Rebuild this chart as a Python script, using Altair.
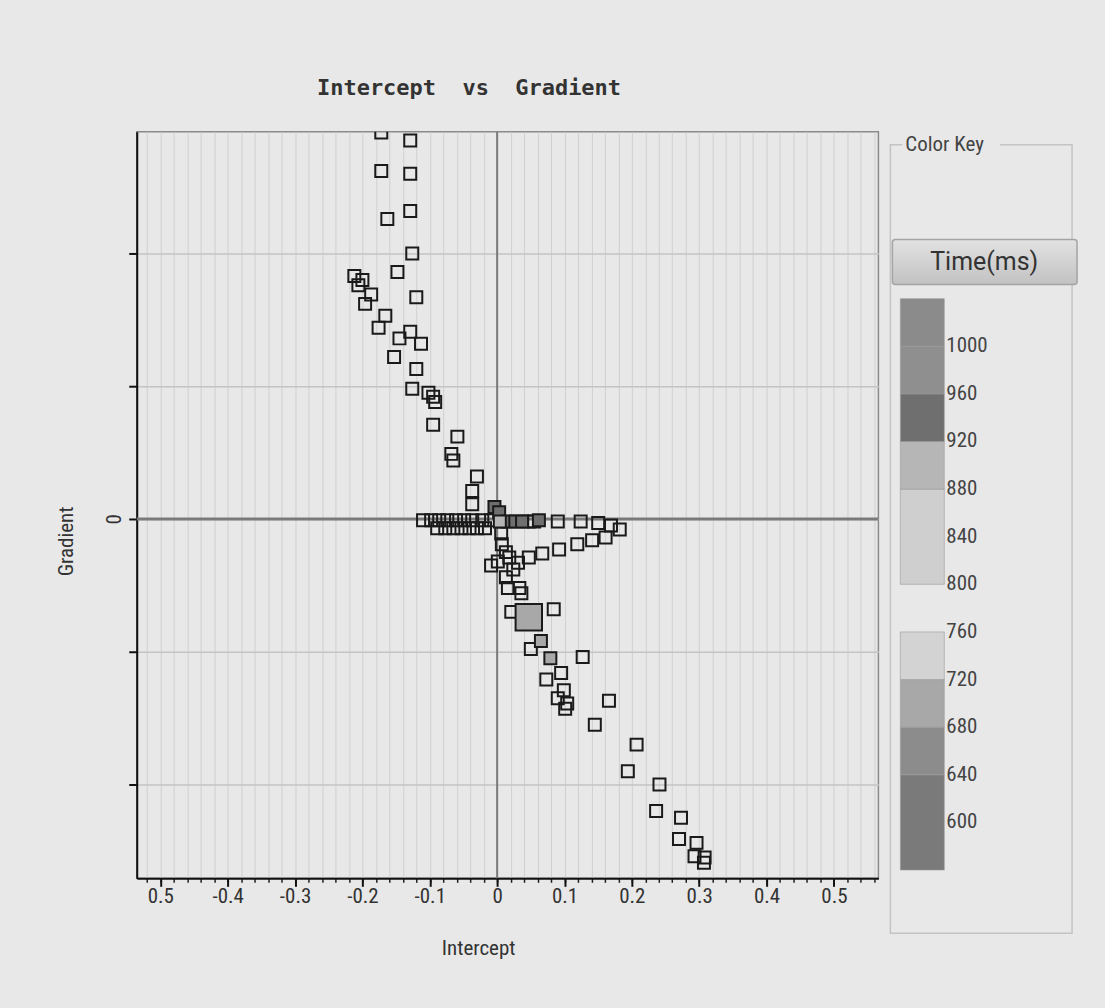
import json

import altair as alt
import numpy as np
import pandas as pd

# ---------------------------------------------------------------- readings
intercept = [
    # upper branch
    -0.172, -0.129, -0.172, -0.129, -0.163, -0.129, -0.126, -0.148, -0.212, -0.200,
    -0.206, -0.187, -0.196, -0.120, -0.166, -0.176, -0.129, -0.145, -0.113, -0.153,
    -0.120, -0.126, -0.102, -0.095, -0.092, -0.095, -0.059, -0.068, -0.065, -0.030,
    -0.037, -0.037,
    # row just under the zero line
    -0.089, -0.077, -0.065, -0.053, -0.041, -0.030, -0.018,
    # row on the zero line
    -0.110, -0.098, -0.086, -0.074, -0.061, -0.049, -0.037, -0.022, -0.009,
    # cluster at the origin
    -0.004, 0.003, 0.016, 0.027, 0.037, 0.047, 0.055, 0.062,
    0.004,
    # right arms
    0.090, 0.124, 0.150, 0.169, 0.182,
    0.161, 0.141, 0.119, 0.092, 0.067, 0.047,
    # column below the origin
    0.006, 0.007, 0.013, 0.001, -0.009, 0.018, 0.031, 0.024, 0.013, 0.016, 0.033, 0.036,
    # lower branch
    0.021, 0.084, 0.065, 0.050, 0.079, 0.127, 0.095, 0.073, 0.099, 0.090, 0.104, 0.101,
    0.166, 0.145, 0.207, 0.194, 0.241, 0.236, 0.273, 0.270, 0.296, 0.293, 0.308, 0.307,
]

gradient = [
    0.291, 0.285, 0.262, 0.260, 0.226, 0.232, 0.200, 0.186, 0.183, 0.180,
    0.176, 0.169, 0.162, 0.167, 0.153, 0.144, 0.141, 0.136, 0.132, 0.122,
    0.113, 0.098, 0.095, 0.092, 0.088, 0.071, 0.062, 0.049, 0.044, 0.032,
    0.021, 0.011,
    -0.007, -0.007, -0.007, -0.007, -0.007, -0.007, -0.007,
    -0.001, -0.001, -0.001, -0.001, -0.001, -0.001, -0.001, -0.001, -0.001,
    0.009, 0.005, -0.002, -0.002, -0.002, -0.002, -0.002, -0.001,
    -0.002,
    -0.002, -0.002, -0.003, -0.005, -0.008,
    -0.014, -0.016, -0.019, -0.023, -0.026, -0.029,
    -0.011, -0.019, -0.025, -0.032, -0.035, -0.029, -0.033, -0.038, -0.044, -0.052, -0.052, -0.056,
    -0.070, -0.068, -0.092, -0.098, -0.105, -0.104, -0.116, -0.121, -0.129, -0.135, -0.139, -0.143,
    -0.137, -0.155, -0.170, -0.190, -0.200, -0.220, -0.225, -0.241, -0.244, -0.254, -0.255, -0.259,
]

N = None
time_ms = (
    [N] * 32
    + [N] * 7
    + [N] * 9
    + [940, 940, 940, 940, 940, N, N, 940]
    + [900]
    + [N] * 5
    + [N] * 6
    + [N] * 12
    + [N, N, 700, N, 710] + [N] * 19
)

# the highlighted sample
selected_intercept = [0.047]
selected_gradient = [-0.074]
selected_time = [690]

# colour key bands (ms)
band_lo = [560, 640, 680, 720, 800, 880, 920, 960, 1000]
band_hi = [640, 680, 720, 760, 880, 920, 960, 1000, 1040]
band_color = ["#7a7a7a", "#8c8c8c", "#a8a8a8", "#d3d3d3", "#cfcfcf",
              "#b6b6b6", "#6f6f6f", "#8f8f8f", "#8b8b8b"]
key_ticks = [1000, 960, 920, 880, 840, 800, 760, 720, 680, 640, 600]

x_ticks = [-0.5, -0.4, -0.3, -0.2, -0.1, 0.0, 0.1, 0.2, 0.3, 0.4, 0.5]
x_tick_labels = ["0.5", "-0.4", "-0.3", "-0.2", "-0.1", "0", "0.1", "0.2", "0.3", "0.4", "0.5"]
y_ticks = [-0.2, -0.1, 0.0, 0.1, 0.2]
y_tick_labels = ["", "", "0", "", ""]

BG = "#e8e8e8"
NARROW = "'Liberation Sans Narrow', 'Roboto Condensed', Roboto, sans-serif"

# ---------------------------------------------------------------- tables
pts = pd.DataFrame({"Intercept": intercept, "Gradient": gradient,
                    "Time": pd.array(time_ms, dtype="Float64")})
hollow = pts[pts["Time"].isna()].copy()
filled = pts[pts["Time"].notna()].copy()
filled["Time"] = filled["Time"].astype(float)
hollow = hollow.drop(columns="Time")
selected = pd.DataFrame({"Intercept": selected_intercept,
                         "Gradient": selected_gradient, "Time": selected_time})

# threshold colour scale shared by the points and the key
thresholds = [640, 680, 720, 760, 800, 880, 920, 960, 1000]
fill_range = band_color[:4] + [BG] + band_color[4:]
time_scale = alt.Scale(type="threshold", domain=thresholds, range=fill_range)

xs = alt.Scale(domain=[-0.535, 0.566], nice=False, zero=False)
ys = alt.Scale(domain=[-0.2707, 0.2917], nice=False, zero=False)

minor_x = [round(v, 2) for v in np.arange(-0.52, 0.561, 0.02)]

x_label_expr = json.dumps(x_tick_labels) + "[round(datum.value*10)+5]"
y_label_expr = json.dumps(y_tick_labels) + "[round(datum.value*10)+2]"

major_x_axis = alt.Axis(
    values=x_ticks, labelExpr=x_label_expr, orient="bottom",
    tickSize=8, tickWidth=2, tickColor="#111", domainColor="#111", domainWidth=2,
    grid=False, labelFont=NARROW, labelFontSize=21, labelColor="#333",
    labelPadding=-1, title="Intercept", titleFont=NARROW, titleFontSize=21,
    titleFontWeight="normal", titleColor="#333", titlePadding=31, titleX=342,
)
minor_x_axis = alt.Axis(
    values=minor_x, orient="bottom", labels=False, tickSize=4, tickWidth=1.5,
    tickColor="#222", grid=True, gridColor="#d0d0d0", gridWidth=1,
    domain=False, title=None,
)
major_y_axis = alt.Axis(
    values=y_ticks, labelExpr=y_label_expr, orient="left",
    tickSize=8, tickWidth=2, tickColor="#111", domainColor="#111", domainWidth=2,
    grid=True, gridColor="#c4c4c4", gridWidth=1.5,
    labelFont=NARROW, labelFontSize=21, labelColor="#333", labelAngle=-90,
    labelAlign="center", labelBaseline="bottom", labelPadding=4,
    title="Gradient", titleFont=NARROW, titleFontSize=21, titleFontWeight="normal",
    titleColor="#333", titleX=-60, titleY=410, titleAngle=-90,
)

zero_v = alt.Chart(pd.DataFrame({"Intercept": [0.0]})).mark_rule(
    color="#7a7a7a", strokeWidth=2
).encode(x=alt.X("Intercept:Q", scale=xs, axis=minor_x_axis))

zero_h = alt.Chart(pd.DataFrame({"Gradient": [0.0]})).mark_rule(
    color="#7a7a7a", strokeWidth=3
).encode(y=alt.Y("Gradient:Q", scale=ys, axis=None))

hollow_pts = alt.Chart(hollow).mark_point(
    shape="square", filled=False, size=144, stroke="#1a1a1a", strokeWidth=2,
    opacity=1, clip=True,
).encode(
    x=alt.X("Intercept:Q", scale=xs, axis=major_x_axis),
    y=alt.Y("Gradient:Q", scale=ys, axis=major_y_axis),
)

filled_pts = alt.Chart(filled).mark_point(
    shape="square", filled=True, size=144, stroke="#1a1a1a", strokeWidth=2,
    opacity=1, clip=True,
).encode(
    x=alt.X("Intercept:Q", scale=xs, axis=None),
    y=alt.Y("Gradient:Q", scale=ys, axis=None),
    fill=alt.Fill("Time:Q", scale=time_scale, legend=None),
)

selected_pt = alt.Chart(selected).mark_point(
    shape="square", filled=True, size=700, stroke="#1a1a1a", strokeWidth=2,
    opacity=1, clip=True,
).encode(
    x=alt.X("Intercept:Q", scale=xs, axis=None),
    y=alt.Y("Gradient:Q", scale=ys, axis=None),
    fill=alt.Fill("Time:Q", scale=time_scale, legend=None),
)

main = alt.layer(zero_v, zero_h, hollow_pts, filled_pts, selected_pt).resolve_axis(
    x="independent", y="independent"
).properties(
    width=743, height=748,
    view=alt.ViewBackground(stroke="#8a8a8a", strokeWidth=1.5),
)

# ---------------------------------------------------------------- colour key
KW, KH = 190, 805
lys = alt.Scale(domain=[505.2, 1180.3], nice=False, zero=False)

bands = pd.DataFrame({"lo": band_lo, "hi": band_hi, "color": band_color})
ticks_df = pd.DataFrame({"ms": key_ticks, "label": [str(t) for t in key_ticks]})

box = alt.Chart(pd.DataFrame({"k": [0]})).mark_rect(
    fill="transparent", stroke="#c4c4c4", strokeWidth=1.5
).encode(x=alt.value(2), x2=alt.value(184), y=alt.value(13), y2=alt.value(803))

caption_bg = alt.Chart(pd.DataFrame({"k": [0]})).mark_rect(fill=BG).encode(
    x=alt.value(14), x2=alt.value(112), y=alt.value(4), y2=alt.value(22)
)
caption = alt.Chart(pd.DataFrame({"t": ["Color Key"]})).mark_text(
    align="left", baseline="middle", font=NARROW, fontSize=21, color="#444"
).encode(x=alt.value(17), y=alt.value(13), text="t:N")

button = alt.Chart(pd.DataFrame({"k": [0]})).mark_rect(
    fill=alt.Gradient(
        gradient="linear", x1=0, x2=0, y1=0, y2=1,
        stops=[alt.GradientStop(color="#e2e2e2", offset=0),
               alt.GradientStop(color="#c2c2c2", offset=1)],
    ),
    stroke="#a4a4a4", strokeWidth=1.5, cornerRadius=3,
).encode(x=alt.value(4), x2=alt.value(189), y=alt.value(108), y2=alt.value(153))

button_text = alt.Chart(pd.DataFrame({"t": ["Time(ms)"]})).mark_text(
    align="center", baseline="middle", font="Roboto, sans-serif", fontSize=25,
    color="#333"
).encode(x=alt.value(96), y=alt.value(131), text="t:N")

band_rects = alt.Chart(bands).mark_rect(stroke="#9a9a9a", strokeWidth=0.6).encode(
    x=alt.value(12), x2=alt.value(56),
    y=alt.Y("lo:Q", scale=lys, axis=None), y2="hi:Q",
    fill=alt.Fill("color:N", scale=None),
)

band_labels = alt.Chart(ticks_df).mark_text(
    align="left", baseline="middle", font=NARROW, fontSize=21, color="#444"
).encode(
    x=alt.value(58), y=alt.Y("ms:Q", scale=lys, axis=None), text="label:N"
)

key = alt.layer(
    box, caption_bg, caption, button, button_text, band_rects, band_labels
).properties(
    width=KW, height=KH,
    view=alt.ViewBackground(stroke="transparent"),
)

chart = alt.hconcat(main, key, spacing=6).properties(
    title=alt.TitleParams(
        text="Intercept \u00a0vs \u00a0Gradient", font="DejaVu Sans Mono",
        fontSize=22, fontWeight="bold", color="#333", anchor="middle",
        dx=-98, offset=30,
    ),
    padding={"left": 55, "top": 76, "right": 26, "bottom": 50},
    background=BG,
)

chart.save("out.html", embed_options={"renderer": "svg", "actions": False})
